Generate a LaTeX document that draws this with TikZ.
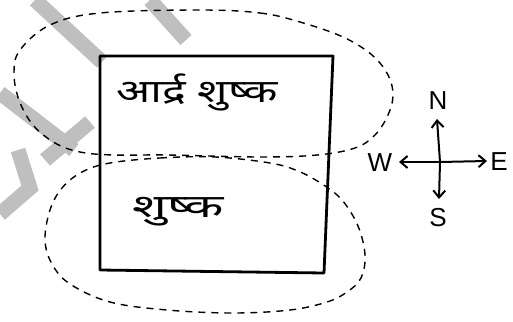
\documentclass[tikz,border=0pt]{standalone}
\usepackage{fontspec}
\setmainfont{Liberation Sans}
\newfontfamily\devfont[Script=Devanagari]{Noto Sans}
\usetikzlibrary{arrows.meta}
\begin{document}
\begin{tikzpicture}[x=1pt,y=-1pt,
  wmark/.style={line width=15pt,draw=black!25,line cap=butt},
  region/.style={draw=black,line width=1.4pt,dash pattern=on 7pt off 6pt},
  box/.style={draw=black,line width=2.8pt,line join=round},
  hindi/.style={font=\devfont\fontsize{32}{36}\selectfont,inner sep=0pt},
  dirlabel/.style={font=\fontsize{26}{30}\selectfont,inner sep=0pt},
  dirarrow/.style={line width=2pt,-{Straight Barb[length=7pt,width=12pt]}}]
\useasboundingbox (0,0) rectangle (513,321);
% watermark
\draw[wmark] (35,0) -- (102,62);
\draw[wmark] (0,93) -- (74,150);
\draw[wmark] (45,160) -- (90,122);
\draw[wmark] (18,150) -- (30,188) -- (0,214);
\draw[wmark] (150,0) -- (186,40);
% upper dashed region
\draw[region] plot[smooth cycle,tension=0.6] coordinates {
  (200,10) (260,13) (300,22) (343,37) (372,55) (388,75) (393,95) (388,115)
  (375,135) (355,148) (317,155) (260,157) (167,155) (113,155) (80,152)
  (55,143) (33,125) (19,100) (14,73) (20,50) (50,25) (100,13)};
% lower dashed region
\draw[region] plot[smooth cycle,tension=0.6] coordinates {
  (110,163) (160,158) (215,157) (270,163) (298,171) (322,184) (342,200)
  (358,226) (365,255) (361,278) (347,292) (327,302) (290,310) (233,313)
  (167,310) (110,302) (70,284) (52,264) (45,240) (50,210) (62,188) (82,172)};
% rectangle
\draw[box] (100,56) -- (333,56) -- (324,273) -- (100,270) -- cycle;
% texts
\node[hindi,xscale=1.4] (t1) at (197,92) {आर्द्र शुष्क};
\node[hindi,xscale=1.6] (t2) at (178,212) {शुष्क};
% compass
\coordinate (c) at (440,162);
\coordinate (ntip) at (437,119);
\coordinate (stip) at (439,199);
\coordinate (wtip) at (399,162);
\coordinate (etip) at (487,161);
\draw[dirarrow] (c) -- (ntip);
\draw[dirarrow] (c) -- (stip);
\draw[dirarrow] (c) -- (wtip);
\draw[dirarrow] (c) -- (etip);
\node[dirlabel] (N) at (438,101) {N};
\node[dirlabel] (S) at (438,218) {S};
\node[dirlabel] (W) at (380,163) {W};
\node[dirlabel] (E) at (499,162) {E};
\end{tikzpicture}
\end{document}
